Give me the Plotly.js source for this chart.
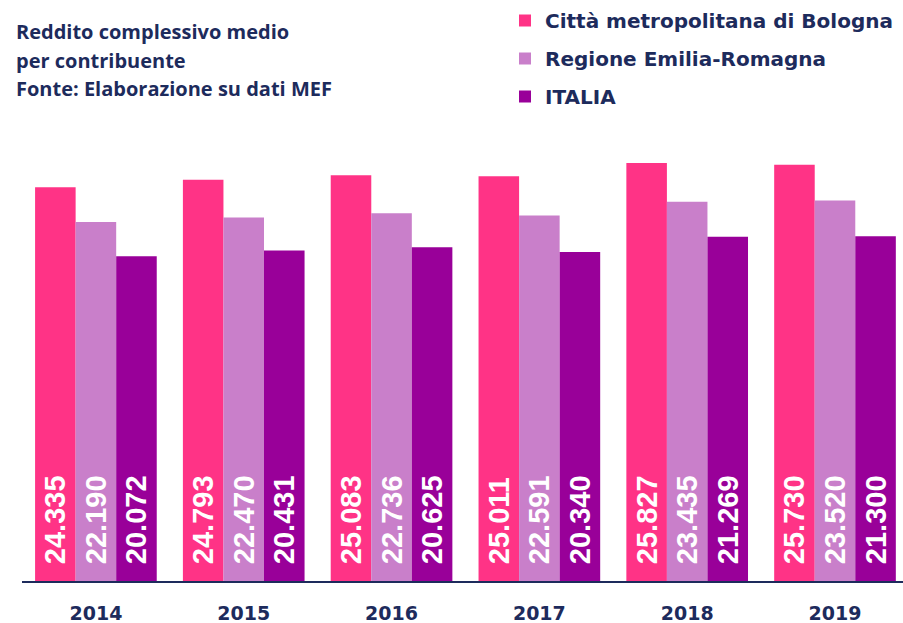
<!DOCTYPE html>
<html>
<head>
<meta charset="utf-8">
<script src="https://cdn.plot.ly/plotly-3.0.1.min.js"></script>
<style>html,body{margin:0;padding:0;background:#fff;}#chart{width:903px;height:623px;}</style>
</head>
<body>
<div id="chart"></div>
<script>
var years = ['2014', '2015', '2016', '2017', '2018', '2019'];
var seriesNames = ['Città metropolitana di Bologna', 'Regione Emilia-Romagna', 'ITALIA'];
var bologna = [24335, 24793, 25083, 25011, 25827, 25730];
var emilia = [22190, 22470, 22736, 22591, 23435, 23520];
var italia = [20072, 20431, 20625, 20340, 21269, 21300];
var colors = ['#FF3386', '#C97FCA', '#990099'];
var titleLines = ['Reddito complessivo medio', 'per contribuente', 'Fonte: Elaborazione su dati MEF'];

var navy = '#1d2b5c';
var allSeries = [bologna, emilia, italia];
var traces = allSeries.map(function (vals, k) {
  return {
    type: 'bar',
    name: seriesNames[k],
    x: years,
    y: vals,
    marker: { color: colors[k], line: { width: 0 } },
    texttemplate: '\u00a0\u2009%{y:,.0f}',
    textposition: 'inside',
    insidetextanchor: 'start',
    textangle: -90,
    constraintext: 'none',
    textfont: { family: 'Liberation Sans, Arial, sans-serif', size: 29, color: '#ffffff', weight: 'bold' },
    hoverinfo: 'skip',
    legendgroup: 'g' + k
  };
});

var annotations = titleLines.map(function (t, i) {
  return {
    text: t,
    xref: 'paper', yref: 'paper',
    x: -8 / 881, y: (581 - (31 + i * 29)) / 481,
    xanchor: 'left', yanchor: 'middle',
    showarrow: false,
    font: { family: 'Open Sans, sans-serif', size: 20, color: navy, weight: 'bold' }
  };
});

var layout = {
  width: 903, height: 623,
  margin: { l: 22, r: 0, t: 100, b: 42 },
  paper_bgcolor: '#ffffff', plot_bgcolor: '#ffffff',
  barmode: 'group', bargap: 0.177, bargroupgap: 0,
  separators: ',.',
  showlegend: true,
  legend: {
    x: 483 / 881, y: (581 - 1) / 481, xanchor: 'left', yanchor: 'top',
    traceorder: 'grouped', tracegroupgap: 9,
    font: { family: 'DejaVu Sans, sans-serif', size: 20, color: navy, weight: 'bold' },
    bgcolor: 'rgba(0,0,0,0)'
  },
  xaxis: {
    type: 'category', range: [-0.5, 5.46],
    showline: true, linecolor: navy, linewidth: 1.5,
    showgrid: false, zeroline: false, ticks: '',
    ticklabelstandoff: 15,
    tickfont: { family: 'DejaVu Sans, sans-serif', size: 19, color: navy, weight: 'bold' }
  },
  yaxis: {
    range: [0, 481 / 0.01618],
    showgrid: false, zeroline: false, showline: false, showticklabels: false, ticks: ''
  },
  annotations: annotations
};

Plotly.newPlot('chart', traces, layout, { displayModeBar: false, staticPlot: true });
</script>
</body>
</html>
